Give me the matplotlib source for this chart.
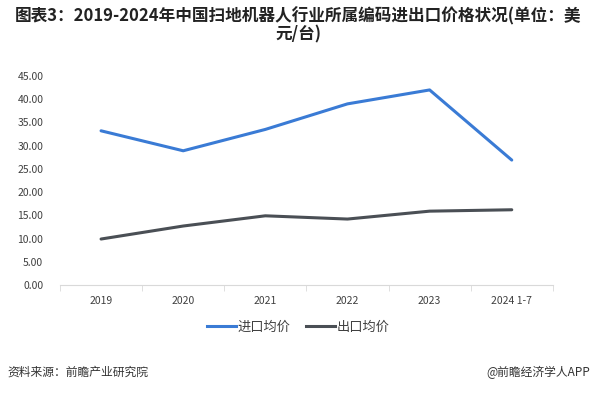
import matplotlib.pyplot as plt
from matplotlib.lines import Line2D

plt.rcParams['font.family'] = ['Noto Sans CJK SC', 'DejaVu Sans']

years = ['2019', '2020', '2021', '2022', '2023', '2024 1-7']
import_price = [33.2, 28.9, 33.5, 39.0, 42.0, 26.9]
export_price = [9.9, 12.7, 14.9, 14.2, 15.9, 16.2]

blue = '#3a7bd5'
dark = '#4a4f55'

fig = plt.figure(figsize=(5.97, 3.93), dpi=100)
ax = fig.add_axes([0.1005, 0.2748, 0.8255, 0.5318])

x = range(len(years))
ax.plot(x, import_price, color=blue, lw=2.2, solid_capstyle='round')
ax.plot(x, export_price, color=dark, lw=2.2, solid_capstyle='round')

ax.set_xlim(-0.5, len(years) - 0.5)
ax.set_ylim(0, 45)
ax.set_yticks([i * 5 for i in range(10)])
ax.set_yticklabels([f'{i * 5:.2f}' for i in range(10)], fontsize=7.5, color='#404040')
ax.set_xticks(list(x))
ax.set_xticklabels(years, fontsize=7.5, color='#404040')
ax.set_xticks([i + 0.5 for i in range(-1, len(years))], minor=True)
ax.tick_params(axis='x', which='major', length=0, pad=8)
ax.tick_params(axis='x', which='minor', length=4, color='#d9d9d9', direction='out')
ax.tick_params(axis='y', length=0, pad=12)

for s in ['top', 'right', 'left']:
    ax.spines[s].set_visible(False)
ax.spines['bottom'].set_color('#d9d9d9')

handles = [Line2D([], [], color=blue, lw=2.2), Line2D([], [], color=dark, lw=2.2)]
fig.legend(handles, ['进口均价', '出口均价'], loc='center', bbox_to_anchor=(0.5, 0.168),
           ncol=2, frameon=False, fontsize=9.5, handlelength=2.2, handletextpad=0.1,
           columnspacing=1.2, labelcolor='#404040')

fig.text(0.5, 0.935, '图表3：2019-2024年中国扫地机器人行业所属编码进出口价格状况(单位：美\n元/台)',
         ha='center', va='center', fontsize=12, fontweight='bold', color='#222222',
         linespacing=1.0)

fig.text(0.012, 0.053, '资料来源：前瞻产业研究院', fontsize=8.5, color='#333333', va='center')
fig.text(0.988, 0.053, '@前瞻经济学人APP', fontsize=8.5, color='#333333', va='center', ha='right')

fig.savefig('out.png', dpi=100)
